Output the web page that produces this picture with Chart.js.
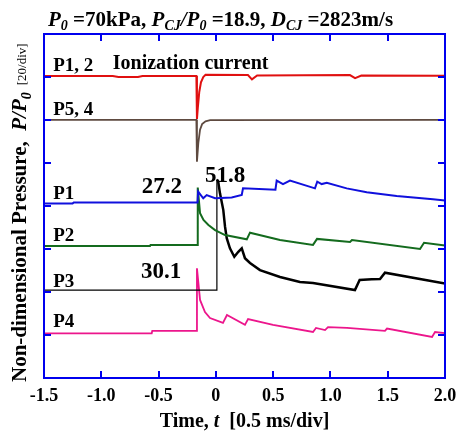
<!DOCTYPE html>
<html>
<head>
<meta charset="utf-8">
<script src="https://cdn.jsdelivr.net/npm/chart.js@4.4.1/dist/chart.umd.min.js"></script>
<style>
  body { margin: 0; background: #fff; }
  #wrap { width: 462px; height: 435px; }
</style>
</head>
<body>
<div id="wrap"><canvas id="grafico" width="462" height="435"></canvas></div>
<script>
// ticks
const tiempoTicks = [-1.5, -1.0, -0.5, 0, 0.5, 1.0, 1.5, 2.0];
const tiempoLabels = ['-1.5', '-1.0', '-0.5', '0', '0.5', '1.0', '1.5', '2.0'];
const presionTicks = [0, 20, 40, 60, 80, 100, 120, 140, 160];

// P1, 2 ionization current (red)
const ion12T = [-1.5, -0.9, -0.85, -0.68, -0.64, -0.17, -0.165, -0.157, -0.145, -0.13, -0.11, -0.09, 0.28, 0.315, 0.36, 1.17, 1.215, 1.27, 2.0];
const ion12V = [140.5, 140.5, 140.0, 140.0, 140.5, 140.5, 120.5, 126.0, 133.0, 137.5, 140.0, 141.0, 140.9, 138.9, 140.7, 140.9, 139.5, 140.7, 140.6];

// P5, 4 ionization current (brown)
const ion54T = [-1.5, -0.17, -0.165, -0.153, -0.138, -0.12, -0.09, -0.05, 2.0];
const ion54V = [120.1, 120.1, 100.6, 109.3, 115.5, 118.1, 119.4, 119.9, 120.1];

// P1 (blue)
const p1T = [-1.5, -1.25, -1.24, -0.16, -0.155, -0.11, -0.08, -0.007, 0.138, 0.226, 0.237, 0.52, 0.531, 0.586, 0.647, 0.865, 0.885, 0.924, 0.968, 1.142, 1.317, 1.578, 1.895, 2.0];
const p1V = [81.2, 81.2, 81.6, 81.6, 86.7, 83.6, 85.1, 83.6, 84.0, 85.1, 88.2, 87.6, 91.8, 90.2, 91.8, 88.2, 91.3, 90.2, 90.8, 88.2, 86.4, 84.7, 83.1, 82.6];

// P2 (green)
const p2T = [-1.5, -0.575, -0.57, -0.16, -0.158, -0.138, -0.108, -0.065, -0.007, 0.08, 0.27, 0.298, 0.56, 0.848, 0.883, 1.171, 1.188, 1.782, 1.817, 2.0];
const p2V = [61.4, 61.4, 61.9, 61.9, 88.6, 76.6, 73.5, 71.2, 68.8, 66.5, 64.5, 67.6, 64.2, 61.9, 64.7, 63.3, 64.2, 60.0, 62.9, 61.6];

// P3 (black)
const p3T = [-1.5, 0.007, 0.009, 0.02, 0.036, 0.065, 0.08, 0.095, 0.123, 0.161, 0.196, 0.226, 0.254, 0.298, 0.385, 0.56, 0.734, 0.848, 1.214, 1.255, 1.36, 1.433, 1.476, 2.0];
const p3V = [40.9, 40.9, 92.3, 91.5, 85.9, 78.1, 70.4, 65.0, 60.3, 56.4, 58.7, 60.3, 55.7, 53.5, 50.2, 47.0, 44.7, 44.2, 40.9, 45.6, 45.9, 46.0, 49.0, 44.0];

// P4 (pink)
const p4T = [-1.5, -0.56, -0.555, -0.17, -0.165, -0.138, -0.095, -0.051, 0.062, 0.097, 0.254, 0.281, 0.499, 0.848, 0.874, 0.953, 0.979, 1.145, 1.476, 1.494, 1.887, 1.913, 2.0];
const p4V = [20.8, 20.8, 21.9, 21.9, 51.0, 36.3, 30.7, 27.9, 25.6, 29.3, 24.7, 27.4, 24.7, 21.4, 23.3, 22.3, 23.7, 23.3, 21.9, 23.0, 19.1, 21.4, 20.9];

const serif = '"Liberation Serif", "Times New Roman", "DejaVu Serif", serif';
const AZUL = '#0000ee';

function puntos(ts, vs) {
    return ts.map((t, i) => ({ x: t, y: vs[i] }));
}

// texto con partes (normal, italica, subindice)
function escribir(ctx, partes, x, y) {
    partes.forEach(p => {
        ctx.font = p[1];
        ctx.fillText(p[0], x, y + (p[2] || 0));
        x += ctx.measureText(p[0]).width;
    });
    return x;
}

function ancho(ctx, partes) {
    let w = 0;
    partes.forEach(p => { ctx.font = p[1]; w += ctx.measureText(p[0]).width; });
    return w;
}

const B = s => `bold ${s}px ${serif}`;
const BI = s => `italic bold ${s}px ${serif}`;

// etiquetas en coordenadas de datos
const notas = [
    ['P1, 2', -1.42, 142.9, B(19)],
    ['Ionization current', -0.9, 143.9, B(20)],
    ['P5, 4', -1.42, 122.5, B(19)],
    ['P1', -1.42, 83.1, B(19)],
    ['P2', -1.42, 63.7, B(19)],
    ['P3', -1.42, 42.5, B(19)],
    ['P4', -1.42, 23.6, B(19)],
    ['27.2', -0.647, 86.2, B(23)],
    ['30.1', -0.653, 46.4, B(23)],
    ['51.8', -0.095, 91.3, B(23)]
];

const marcoPlugin = {
    id: 'marco',
    afterDatasetsDraw(chart) {
        const { ctx, chartArea: a, scales } = chart;
        const xs = scales.x, ys = scales.y;
        ctx.save();

        // marco azul con ticks hacia adentro
        ctx.strokeStyle = AZUL;
        ctx.lineWidth = 2;
        ctx.strokeRect(a.left, a.top, a.right - a.left, a.bottom - a.top);
        ctx.beginPath();
        tiempoTicks.forEach(v => {
            const px = Math.round(xs.getPixelForValue(v));
            ctx.moveTo(px, a.bottom); ctx.lineTo(px, a.bottom - 7);
            ctx.moveTo(px, a.top); ctx.lineTo(px, a.top + 7);
        });
        presionTicks.forEach(v => {
            const py = Math.round(ys.getPixelForValue(v));
            ctx.moveTo(a.left, py); ctx.lineTo(a.left + 7, py);
            ctx.moveTo(a.right, py); ctx.lineTo(a.right - 7, py);
        });
        ctx.stroke();

        // etiquetas
        ctx.fillStyle = '#000';
        ctx.textAlign = 'left';
        ctx.textBaseline = 'alphabetic';
        notas.forEach(n => {
            ctx.font = n[3];
            ctx.fillText(n[0], xs.getPixelForValue(n[1]), ys.getPixelForValue(n[2]));
        });

        // titulo
        const sub = BI(14);
        escribir(ctx, [
            ['P', BI(21)], ['0', sub, 4], [' =70kPa, ', B(21)],
            ['P', BI(21)], ['CJ', sub, 4], ['/P', BI(21)], ['0', sub, 4], [' =18.9, ', B(21)],
            ['D', BI(21)], ['CJ', sub, 4], [' =2823m/s', B(21)]
        ], 48, 25.5);

        // titulo eje x
        const tx = [['Time, ', B(20)], ['t', BI(20)], ['  [0.5 ms/div]', B(20)]];
        escribir(ctx, tx, (a.left + a.right) / 2 - ancho(ctx, tx) / 2, 427);

        // titulo eje y
        ctx.translate(26, 382);
        ctx.rotate(-Math.PI / 2);
        let fin = escribir(ctx, [
            ['Non-dimensional Pressure,  ', B(21)], ['P/P', BI(21)], ['0', BI(14), 5]
        ], 0, 0);
        ctx.font = `13px ${serif}`;
        ctx.fillText('[20/div]', fin + 7, 0);
        ctx.restore();
    }
};

const lineas = [
    { data: puntos(ion12T, ion12V), borderColor: '#e01010', borderWidth: 2 },
    { data: puntos(ion54T, ion54V), borderColor: '#5e4a40', borderWidth: 1.8 },
    { data: puntos(p1T, p1V), borderColor: '#1010dd', borderWidth: 2 },
    { data: puntos(p2T, p2V), borderColor: '#146b1e', borderWidth: 2 },
    {
        data: puntos(p3T, p3V), borderColor: '#000', borderWidth: 2.5,
        segment: { borderWidth: c => c.p1.parsed.x <= 0.01 ? 1.2 : 2.5 }
    },
    { data: puntos(p4T, p4V), borderColor: '#ec168c', borderWidth: 1.8 }
];

new Chart(document.getElementById('grafico'), {
    type: 'line',
    data: { datasets: lineas },
    options: {
        responsive: false,
        animation: false,
        devicePixelRatio: 1,
        layout: { padding: { left: 44, right: 17, top: 34, bottom: 0 } },
        elements: { point: { radius: 0 }, line: { tension: 0 } },
        plugins: { legend: { display: false }, tooltip: { enabled: false } },
        scales: {
            x: {
                type: 'linear', min: -1.5, max: 2.0,
                grid: { display: false }, border: { display: false },
                afterBuildTicks: s => { s.ticks = tiempoTicks.map(v => ({ value: v })); },
                afterFit: s => { s.height = 57; },
                ticks: {
                    color: '#000', padding: 0, maxRotation: 0, autoSkip: false,
                    font: { family: serif, size: 18, weight: 'bold' },
                    callback: (v, i) => tiempoLabels[i]
                }
            },
            y: { display: false, min: 0, max: 160 }
        }
    },
    plugins: [marcoPlugin]
});
</script>
</body>
</html>
